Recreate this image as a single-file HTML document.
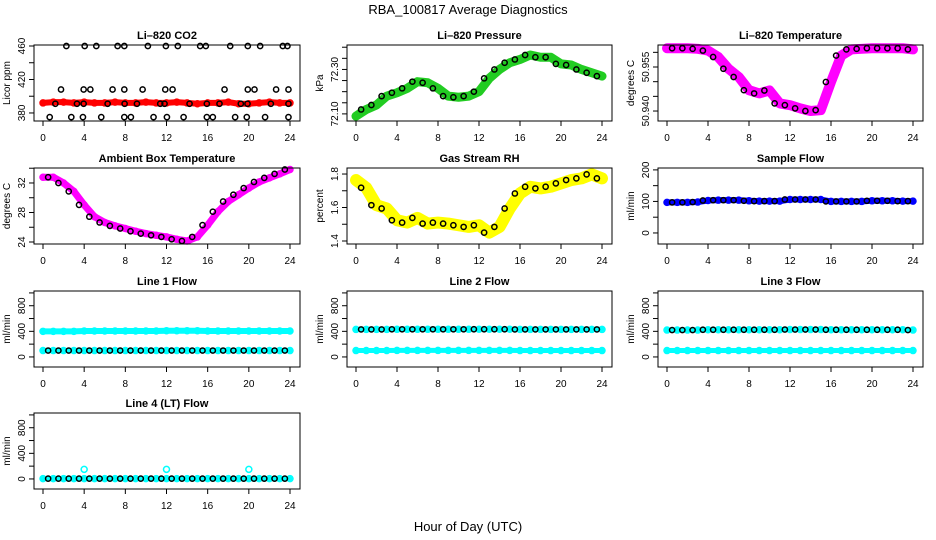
<!DOCTYPE html>
<html><head><meta charset="utf-8"><style>
html,body{margin:0;padding:0;background:#fff;}
svg{display:block;font-family:"Liberation Sans",Arial,sans-serif;}
</style></head><body>
<svg id="chart" width="936" height="540" viewBox="0 0 936 540">
<text x="468" y="14" text-anchor="middle" font-size="13">RBA_100817  Average Diagnostics</text>
<text x="468" y="531" text-anchor="middle" font-size="13">Hour of Day (UTC)</text>
</svg>
<script>
const hours = [0,1,2,3,4,5,6,7,8,9,10,11,12,13,14,15,16,17,18,19,20,21,22,23,24];
const xTicks = [0,4,8,12,16,20,24];
const co2Band = [392,393,393,392,393,392,392,393,392,392,393,392,392,393,392,391,392,392,393,391,391,392,393,392,392];
const co2BlackX = [2.27,4.05,5.18,7.25,7.9,10.19,11.94,13.1,15.27,15.82,18.19,19.9,21.1,23.3,23.75,
  1.75,3.95,4.6,6.76,7.9,9.68,11.88,12.59,17.64,19.9,20.55,22.65,23.85,
  0.65,2.75,3.88,5.66,7.9,8.54,10.74,12.04,13.66,15.92,16.5,18.67,19.8,21.58,23.85,
  1.2,3.3,3.95,6.28,7.93,9.13,11.39,11.81,14.24,15.92,17.15,19.22,19.87,22.14,23.85];
const co2BlackY = [460,460,460,460,460,460,460,460,460,460,460,460,460,460,460,
  408,408,408,408,408,408,408,408,408,408,408,408,408,
  375,375,375,375,375,375,375,375,375,375,375,375,375,375,375,
  391,391,391,391,391,391,391,391,391,391,391,391,391,391,391];
const pressure = [72.09,72.12,72.14,72.18,72.195,72.215,72.245,72.24,72.215,72.18,72.175,72.18,72.20,72.26,72.30,72.33,72.345,72.365,72.355,72.355,72.325,72.32,72.30,72.285,72.27];
const liTemp = [50.9614,50.9614,50.9614,50.9612,50.9606,50.9584,50.9544,50.9516,50.9471,50.946,50.947,50.9426,50.942,50.9409,50.940,50.9403,50.9499,50.9589,50.961,50.9612,50.9614,50.9614,50.9614,50.9614,50.9610];
const ambient = [32.78,32.78,32.0,30.86,29.03,27.43,26.65,26.19,25.83,25.46,25.14,24.91,24.69,24.37,24.14,24.69,26.29,28.11,29.49,30.4,31.31,32.14,32.69,33.23,33.83];
const rh = [1.764,1.718,1.614,1.594,1.524,1.51,1.538,1.504,1.51,1.504,1.494,1.484,1.494,1.45,1.484,1.594,1.684,1.724,1.714,1.724,1.744,1.764,1.774,1.798,1.774];
const sampleFlow = [97,97,97,98,103,104,104,104,102,101,101,101,106,106,106,106,100,100,100,100,102,102,102,101,101];
const line1Hi = [400,400,400,400,405,405,405,405,405,405,405,405,410,410,410,410,405,405,405,405,405,405,405,405,405];
const line1Lo = [100,100,100,100,100,100,100,100,100,100,100,100,100,100,100,100,100,100,100,100,100,100,100,100,100];
const line2Hi = [430,430,430,430,432,432,432,432,432,432,432,432,433,433,433,433,430,430,430,430,430,430,430,430,430];
const line2Lo = [100,100,100,100,102,102,102,102,102,102,102,102,102,102,102,102,100,100,100,100,100,100,100,100,100];
const line3Hi = [420,420,420,420,425,425,425,425,425,425,425,425,428,428,428,428,425,425,425,425,425,425,425,425,420];
const line3Lo = [100,100,100,100,100,100,100,100,100,100,100,100,100,100,100,100,100,100,100,100,100,100,100,100,100];
const line4 = [5,5,5,5,5,5,5,5,5,5,5,5,5,5,5,5,5,5,5,5,5,5,5,5,5];
const line4OutX = [4,12,20];
const line4OutY = [150,150,150];

const NS = "http://www.w3.org/2000/svg";
const svg = document.getElementById('chart');
function mk(tag, attrs, parent){const e=document.createElementNS(NS,tag);for(const k in attrs)e.setAttribute(k,attrs[k]);(parent||svg).appendChild(e);return e;}

const cols = [{l:34,r:300},{l:347,r:612},{l:658,r:923}];
const rows = [{t:45,b:121},{t:168,b:244},{t:291,b:367},{t:413,b:489}];
const flowTicks=[0,200,400,600,800,1000], flowLabels=[0,400,800];
const panels = [
 {key:'co2',title:'Li\u2013820 CO2',ylab:'Licor ppm',c:0,r:0,ymin:370.4,ymax:461.2,ticks:[380,400,420,440,460],labels:[380,420,460],fmt:v=>v,
  series:[{y:co2Band,color:'#ff0000',band:6,black:false}],extraBlack:{x:co2BlackX,y:co2BlackY}},
 {key:'pressure',title:'Li\u2013820 Pressure',ylab:'kPa',c:1,r:0,ymin:72.068,ymax:72.41,ticks:[72.10,72.15,72.20,72.25,72.30,72.35,72.40],labels:[72.10,72.30],fmt:v=>v.toFixed(2),
  series:[{y:pressure,color:'#22cc22',band:9,black:true}]},
 {key:'li-temp',title:'Li\u2013820 Temperature',ylab:'degrees C',c:2,r:0,ymin:50.9366,ymax:50.9625,ticks:[50.940,50.945,50.950,50.955,50.960],labels:[50.940,50.955],fmt:v=>v.toFixed(3),
  series:[{y:liTemp,color:'#ff00ff',band:10,black:true}]},
 {key:'ambient',title:'Ambient Box Temperature',ylab:'degrees C',c:0,r:1,ymin:23.73,ymax:34.03,ticks:[24,26,28,30,32,34],labels:[24,28,32],fmt:v=>v,
  series:[{y:ambient,color:'#ff00ff',band:7,black:true}]},
 {key:'rh',title:'Gas Stream RH',ylab:'percent',c:1,r:1,ymin:1.382,ymax:1.836,ticks:[1.4,1.5,1.6,1.7,1.8],labels:[1.4,1.6,1.8],fmt:v=>v.toFixed(1),
  series:[{y:rh,color:'#ffff00',band:12,black:true}]},
 {key:'sample-flow',title:'Sample Flow',ylab:'ml/min',c:2,r:1,ymin:-35,ymax:206,ticks:[0,50,100,150,200],labels:[0,100,200],fmt:v=>v,
  series:[{y:sampleFlow,color:'#0000ff',band:6,black:true}]},
 {key:'line1',title:'Line 1 Flow',ylab:'ml/min',c:0,r:2,ymin:-157,ymax:1030,ticks:flowTicks,labels:flowLabels,fmt:v=>v,
  series:[{y:line1Hi,color:'#00ffff',band:6,black:false},{y:line1Lo,color:'#00ffff',band:5,black:true}]},
 {key:'line2',title:'Line 2 Flow',ylab:'ml/min',c:1,r:2,ymin:-157,ymax:1030,ticks:flowTicks,labels:flowLabels,fmt:v=>v,
  series:[{y:line2Lo,color:'#00ffff',band:5,black:false},{y:line2Hi,color:'#00ffff',band:5,black:true}]},
 {key:'line3',title:'Line 3 Flow',ylab:'ml/min',c:2,r:2,ymin:-157,ymax:1030,ticks:flowTicks,labels:flowLabels,fmt:v=>v,
  series:[{y:line3Lo,color:'#00ffff',band:5,black:false},{y:line3Hi,color:'#00ffff',band:5,black:true}]},
 {key:'line4',title:'Line 4 (LT) Flow',ylab:'ml/min',c:0,r:3,ymin:-157,ymax:1030,ticks:flowTicks,labels:flowLabels,fmt:v=>v,
  series:[{y:line4,color:'#00ffff',band:5,black:true}],extraColor:{x:line4OutX,y:line4OutY,color:'#00ffff'}}
];

panels.forEach(p=>{
  const L=cols[p.c].l,R=cols[p.c].r,T=rows[p.r].t,B=rows[p.r].b;
  const x0=L+9,x1=R-10;
  const xs=h=>x0+(h/24)*(x1-x0);
  const ys=v=>B-(v-p.ymin)/(p.ymax-p.ymin)*(B-T);
  const g=mk('g',{});
  
  
  const t=mk('text',{x:(L+R)/2,y:T-6,'text-anchor':'middle','font-size':'11','font-weight':'bold'},g);
  t.textContent=p.title;
  
  
  const yl=mk('text',{x:0,y:0,'text-anchor':'middle','font-size':'10',transform:`translate(${L-24},${(T+B)/2}) rotate(-90)`},g);
  yl.textContent=p.ylab;
  
  
  const cg=mk('g',{},g);
  p.series.forEach(s=>{
    const pts=hours.map((h,i)=>xs(h)+','+ys(s.y[i])).join(' ');
    const band=mk('polyline',{points:pts,fill:'none',stroke:s.color,'stroke-width':s.band,'stroke-linejoin':'round','stroke-linecap':'round'},cg);
    
    
    hours.forEach((h,i)=>{
      const c=mk('circle',{cx:xs(h),cy:ys(s.y[i]),r:3,fill:'none',stroke:s.color,'stroke-width':1.5},cg);
      
      
    });
  });
  if(p.extraColor){
    p.extraColor.x.forEach((h,i)=>{
      const c=mk('circle',{cx:xs(h),cy:ys(p.extraColor.y[i]),r:3,fill:'none',stroke:p.extraColor.color,'stroke-width':1.5},cg);
      
      
    });
  }
  p.series.forEach(s=>{
    if(!s.black)return;
    hours.forEach((h,i)=>{
      if(h===0)return;
      const hh=h-0.5;
      const c=mk('circle',{cx:xs(hh),cy:ys(s.y[i]),r:2.6,fill:'none',stroke:'#000','stroke-width':1.5},cg);
      
      
    });
  });
  if(p.extraBlack){
    p.extraBlack.x.forEach((h,i)=>{
      const c=mk('circle',{cx:xs(h),cy:ys(p.extraBlack.y[i]),r:2.6,fill:'none',stroke:'#000','stroke-width':1.5},cg);
      
      
    });
  }
  const box=mk('rect',{x:L,y:T,width:R-L,height:B-T,fill:'none',stroke:'#000','stroke-width':1},g);
  
  
  mk('line',{x1:xs(0),x2:xs(24),y1:B,y2:B,stroke:'#000'},g);
  xTicks.forEach(h=>{
    mk('line',{x1:xs(h),x2:xs(h),y1:B,y2:B+5,stroke:'#000'},g);
    const tl=mk('text',{x:xs(h),y:B+20,'text-anchor':'middle','font-size':'10'},g);
    tl.textContent=h;
    
    
  });
  p.ticks.forEach(v=>{
    mk('line',{x1:L,x2:L-5,y1:ys(v),y2:ys(v),stroke:'#000'},g);
  });
  p.labels.forEach(v=>{
    const tl=mk('text',{x:0,y:0,'text-anchor':'middle','font-size':'10',transform:`translate(${L-9},${ys(v)}) rotate(-90)`},g);
    tl.textContent=p.fmt(v);
    
    
  });
});
</script>
</body></html>
